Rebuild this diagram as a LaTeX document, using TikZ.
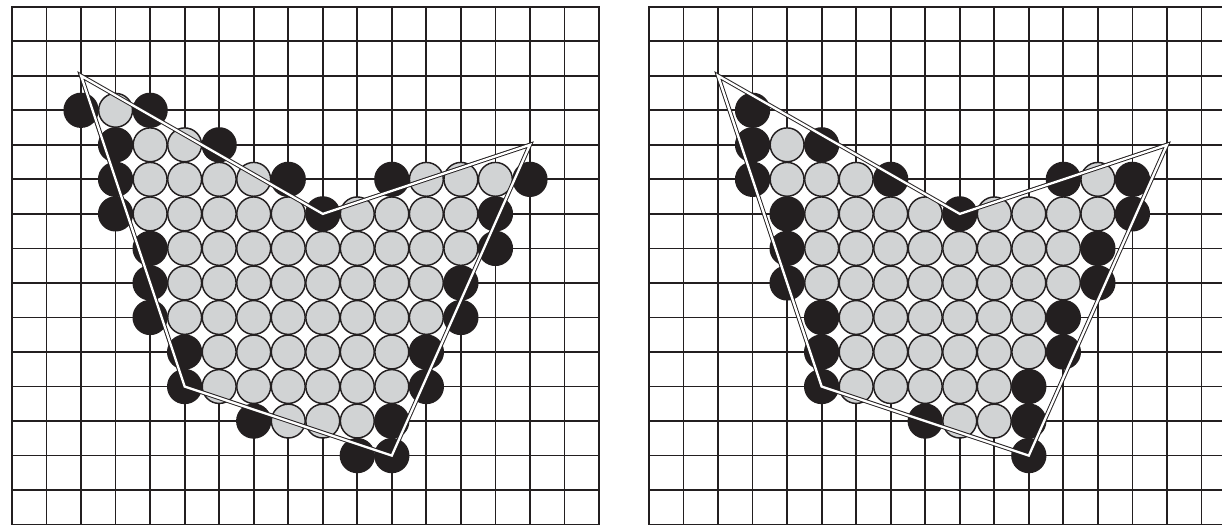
\documentclass[tikz,border=0pt]{standalone}
\definecolor{ink}{HTML}{231F20}
\definecolor{disc}{HTML}{D1D3D4}
\begin{document}
\begin{tikzpicture}[x=1cm,y=-1cm,
  gridline/.style={draw=ink,line width=1.45pt},
  graydisc/.style={fill=disc,draw=ink,line width=1.2pt},
  blackdisc/.style={fill=ink,draw=ink,line width=1.2pt},
  hull/.style={draw=ink,line width=0.8pt,double=white,double distance=1.9pt,line join=miter}]
\useasboundingbox (0,0) rectangle (35.39,15.204);
\clip (0,0) rectangle (35.39,15.204);
% ---------------- left panel ----------------
\begin{scope}[shift={(0.3475,0.194)}]
  \foreach \i in {1,...,16} \draw[gridline] (\i,0) -- (\i,15);
  \foreach \j in {1,...,14} \draw[gridline] (0,\j) -- (17,\j);
  \draw[gridline] (0,0) rectangle (17,15);
  \foreach \j/\a/\b in {3/3/3,4/4/5,5/4/7,5/12/14,6/4/8,6/10/13,7/5/13,8/5/12,9/5/12,10/6/11,11/6/11,12/8/10}
    \foreach \i in {\a,...,\b} \draw[graydisc] (\i,\j) circle (0.49);
  \foreach \i/\j in {2/3,4/3,3/4,6/4,3/5,8/5,11/5,15/5,3/6,9/6,14/6,4/7,14/7,4/8,13/8,4/9,13/9,5/10,12/10,5/11,12/11,7/12,11/12,10/13,11/13}
    \draw[blackdisc] (\i,\j) circle (0.49);
  \coordinate (L1) at (2,2);
  \coordinate (L2) at (9,6);
  \coordinate (L3) at (15,4);
  \coordinate (L4) at (11,13);
  \coordinate (L5) at (5,11);
  \draw[hull] (L1) -- (L2) -- (L3) -- (L4) -- (L5) -- cycle;
\end{scope}
% ---------------- right panel ----------------
\begin{scope}[shift={(18.795,0.194)}]
  \foreach \i in {1,...,16} \draw[gridline] (\i,0) -- (\i,15);
  \foreach \j in {1,...,14} \draw[gridline] (0,\j) -- (17,\j);
  \draw[gridline] (0,0) rectangle (17,15);
  \foreach \j/\a/\b in {4/4/4,5/4/6,5/13/13,6/5/8,6/10/13,7/5/12,8/5/12,9/6/11,10/6/11,11/6/10,12/9/10}
    \foreach \i in {\a,...,\b} \draw[graydisc] (\i,\j) circle (0.49);
  \foreach \i/\j in {3/3,3/4,5/4,3/5,7/5,12/5,14/5,4/6,9/6,14/6,4/7,13/7,4/8,13/8,5/9,12/9,5/10,12/10,5/11,11/11,8/12,11/12,11/13}
    \draw[blackdisc] (\i,\j) circle (0.49);
  \coordinate (R1) at (2,2);
  \coordinate (R2) at (9,6);
  \coordinate (R3) at (15,4);
  \coordinate (R4) at (11,13);
  \coordinate (R5) at (5,11);
  \draw[hull] (R1) -- (R2) -- (R3) -- (R4) -- (R5) -- cycle;
\end{scope}
\end{tikzpicture}
\end{document}
